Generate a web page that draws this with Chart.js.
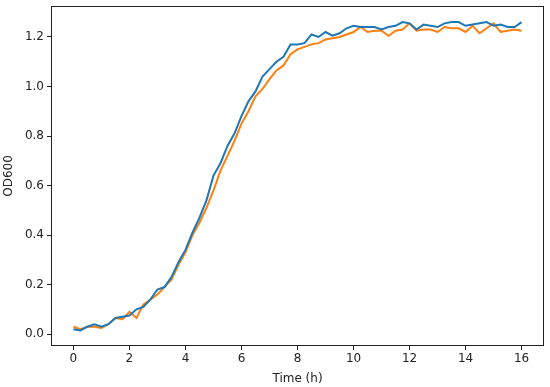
<!DOCTYPE html>
<html>
<head>
<meta charset="utf-8">
<script src="https://cdn.jsdelivr.net/npm/chart.js@4"></script>
<style>
  html, body { margin: 0; padding: 0; background: #fff; }
  #wrap { width: 550px; height: 387px; }
</style>
</head>
<body>
<div id="wrap"><canvas id="chart"></canvas></div>
<script>
// Growth curves, OD600 sampled every 15 minutes

const timeH = [
  0, 0.25, 0.5, 0.75, 1, 1.25, 1.5, 1.75, 2, 2.25, 2.5, 2.75, 3, 3.25, 3.5, 3.75,
  4, 4.25, 4.5, 4.75, 5, 5.25, 5.5, 5.75, 6, 6.25, 6.5, 6.75, 7, 7.25, 7.5, 7.75,
  8, 8.25, 8.5, 8.75, 9, 9.25, 9.5, 9.75, 10, 10.25, 10.5, 10.75, 11, 11.25, 11.5, 11.75,
  12, 12.25, 12.5, 12.75, 13, 13.25, 13.5, 13.75, 14, 14.25, 14.5, 14.75, 15, 15.25, 15.5, 15.75, 16
];

const odBlue = [
  0.020, 0.015, 0.030, 0.040, 0.030, 0.040, 0.065, 0.070, 0.075, 0.100, 0.110, 0.140, 0.180, 0.190, 0.230, 0.290,
  0.340, 0.410, 0.470, 0.540, 0.640, 0.690, 0.760, 0.810, 0.880, 0.940, 0.980, 1.040, 1.070, 1.100, 1.120, 1.170,
  1.170, 1.175, 1.210, 1.200, 1.220, 1.205, 1.215, 1.235, 1.245, 1.240, 1.240, 1.240, 1.230, 1.240, 1.245, 1.260,
  1.255, 1.230, 1.250, 1.245, 1.240, 1.255, 1.260, 1.260, 1.245, 1.250, 1.255, 1.260, 1.245, 1.250, 1.240, 1.240, 1.260
];

const odOrange = [
  0.030, 0.020, 0.030, 0.030, 0.025, 0.040, 0.065, 0.060, 0.090, 0.065, 0.120, 0.140, 0.160, 0.190, 0.220, 0.280,
  0.330, 0.400, 0.450, 0.510, 0.580, 0.660, 0.720, 0.780, 0.850, 0.900, 0.960, 0.990, 1.030, 1.065, 1.085, 1.130,
  1.150, 1.160, 1.170, 1.175, 1.190, 1.195, 1.200, 1.210, 1.220, 1.240, 1.220, 1.225, 1.225, 1.205, 1.225, 1.230,
  1.255, 1.225, 1.230, 1.230, 1.220, 1.240, 1.235, 1.235, 1.220, 1.245, 1.215, 1.235, 1.255, 1.220, 1.225, 1.230, 1.225
];

const xTicks = [0, 2, 4, 6, 8, 10, 12, 14, 16];
const yTicks = [0, 0.2, 0.4, 0.6, 0.8, 1.0, 1.2];

const toPoints = (xs, ys) => xs.map((x, i) => ({ x: x, y: ys[i] }));

// matplotlib-style box around the plot area
const frame = {
  id: 'frame',
  afterDraw(chart) {
    const a = chart.chartArea;
    const ctx = chart.ctx;
    ctx.save();
    ctx.strokeStyle = '#222';
    ctx.lineWidth = 1;
    ctx.strokeRect(a.left + 0.5, a.top + 0.5, a.right - a.left - 1, a.bottom - a.top - 1);
    ctx.restore();
  }
};

const tickFont = { family: 'DejaVu Sans', size: 12 };

new Chart(document.getElementById('chart'), {
  type: 'line',
  data: {
    datasets: [
      {
        data: toPoints(timeH, odBlue),
        borderColor: '#1f77b4',
        borderWidth: 2,
        pointRadius: 0,
        tension: 0
      },
      {
        data: toPoints(timeH, odOrange),
        borderColor: '#ff7f0e',
        borderWidth: 2,
        pointRadius: 0,
        tension: 0
      }
    ]
  },
  options: {
    responsive: true,
    maintainAspectRatio: false,
    animation: false,
    layout: { padding: { top: 6, right: 6, left: 0, bottom: 0 } },
    plugins: {
      legend: { display: false },
      tooltip: { enabled: false }
    },
    scales: {
      x: {
        type: 'linear',
        min: -0.8,
        max: 16.8,
        afterBuildTicks: s => { s.ticks = xTicks.map(v => ({ value: v })); },
        afterFit: s => { s.height = 41; s.paddingLeft = 0; s.paddingRight = 0; },
        grid: { drawOnChartArea: false, tickLength: 4, tickColor: '#222' },
        border: { display: false },
        ticks: { color: '#222', font: tickFont, padding: 2, maxRotation: 0, callback: v => String(v) },
        title: { display: true, text: 'Time (h)', color: '#222', font: tickFont, padding: { top: 0, bottom: 1 } }
      },
      y: {
        min: -0.048,
        max: 1.325,
        afterBuildTicks: s => { s.ticks = yTicks.map(v => ({ value: v })); },
        afterFit: s => { s.width = 51; s.paddingTop = 0; s.paddingBottom = 0; },
        grid: { drawOnChartArea: false, tickLength: 4, tickColor: '#222' },
        border: { display: false },
        ticks: { color: '#222', font: tickFont, padding: 3, callback: v => v.toFixed(1) },
        title: { display: true, text: 'OD600', color: '#222', font: tickFont, padding: { top: 2, bottom: 0 } }
      }
    }
  },
  plugins: [frame]
});
</script>
</body>
</html>
